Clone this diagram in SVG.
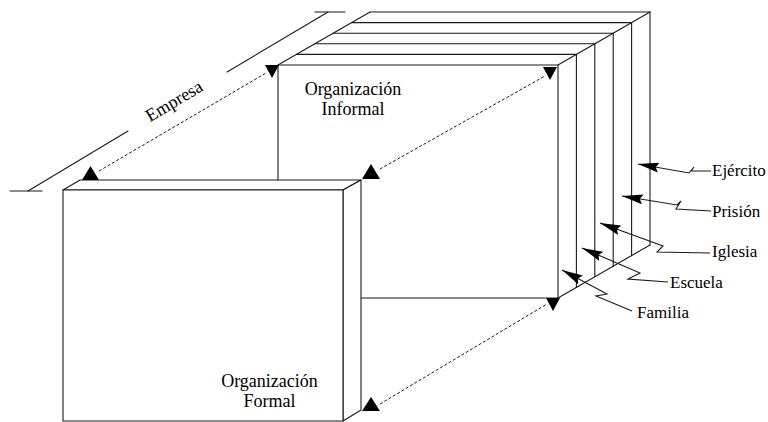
<svg xmlns="http://www.w3.org/2000/svg" width="768" height="422" viewBox="0 0 768 422">
<style>
.ln{fill:none;stroke:#1a1a1a;stroke-width:1.1;stroke-linecap:round;stroke-linejoin:round}
.face{fill:#fff;stroke:#1a1a1a;stroke-width:1.1;stroke-linejoin:round}
.dash{fill:none;stroke:#1a1a1a;stroke-width:1;stroke-dasharray:3 2}
.tri{fill:#000}
.lead{fill:none;stroke:#1a1a1a;stroke-width:1.1;stroke-linejoin:miter}
.big{font-size:18px}
.sm{font-size:17px}
</style>
<defs>
<marker id="ah" markerUnits="userSpaceOnUse" markerWidth="22" markerHeight="10" refX="21" refY="5" orient="auto-start-reverse" viewBox="0 0 22 10">
<path d="M0,0 L21,5 L0,10 L3,5 Z" fill="#000"/>
</marker>
</defs>
<rect width="768" height="422" fill="#fff"/>

<g id="empresa">
<line class="ln" x1="10" y1="191" x2="42" y2="191"/>
<line class="ln" x1="315" y1="12" x2="345" y2="12"/>
<line class="ln" x1="28" y1="191" x2="128" y2="131"/>
<line class="ln" x1="227" y1="72" x2="328" y2="12"/>
<text class="big" font-family="Liberation Serif, Times New Roman, serif" fill="#000" text-anchor="middle" transform="translate(174 101) rotate(-30.8)" y="6">Empresa</text>
</g>

<g id="layers">
<line class="ln" x1="296.4" y1="54.4" x2="576.4" y2="54.4"/>
<line class="ln" x1="314.8" y1="43.8" x2="594.8" y2="43.8"/>
<line class="ln" x1="333.2" y1="33.2" x2="613.2" y2="33.2"/>
<line class="ln" x1="351.6" y1="22.6" x2="631.6" y2="22.6"/>
<line class="ln" x1="370" y1="12" x2="650" y2="12"/>
<line class="ln" x1="278" y1="65" x2="370" y2="12"/>
<line class="ln" x1="558" y1="65" x2="650" y2="12"/>
<line class="ln" x1="558" y1="298" x2="650" y2="245"/>
<line class="ln" x1="576.4" y1="54.4" x2="576.4" y2="287.4"/>
<line class="ln" x1="594.8" y1="43.8" x2="594.8" y2="276.8"/>
<line class="ln" x1="613.2" y1="33.2" x2="613.2" y2="266.2"/>
<line class="ln" x1="631.6" y1="22.6" x2="631.6" y2="255.6"/>
<line class="ln" x1="650" y1="12" x2="650" y2="245"/>
</g>

<g id="informal">
<polyline class="ln" points="278,180 278,65 558,65 558,298 361,298"/>
<text class="big" font-family="Liberation Serif, Times New Roman, serif" fill="#000" text-anchor="middle" x="353" y="95">Organización</text>
<text class="big" font-family="Liberation Serif, Times New Roman, serif" fill="#000" text-anchor="middle" x="353" y="115">Informal</text>
</g>

<g id="formal">
<polygon class="face" points="63,190 80,180 361,180 343,190"/>
<polygon class="face" points="343,190 361,180 361,410 343,421"/>
<rect class="face" x="63" y="190" width="280" height="231"/>
<text class="big" font-family="Liberation Serif, Times New Roman, serif" fill="#000" text-anchor="middle" x="269.5" y="387">Organización</text>
<text class="big" font-family="Liberation Serif, Times New Roman, serif" fill="#000" text-anchor="middle" x="269.5" y="407">Formal</text>
</g>

<g id="connectors">
<line class="dash" x1="99" y1="171" x2="266" y2="73"/>
<line class="dash" x1="380" y1="169" x2="545" y2="76"/>
<line class="dash" x1="380" y1="404" x2="547" y2="304"/>
<polygon class="tri" points="82,180 99,180 90.5,166"/>
<polygon class="tri" points="265,65 279,65 272,78"/>
<polygon class="tri" points="362,179 380,179 371,164"/>
<polygon class="tri" points="543,67 557,67 550,80"/>
<polygon class="tri" points="546,298 560,298 553,311"/>
<polygon class="tri" points="362,411 380,411 371,397"/>
<polyline class="lead" marker-start="url(#ah)" points="638,164 689,173 694,167 691,171 711,171"/>
<polyline class="lead" marker-start="url(#ah)" points="622,196 677,205 681,201 676,209 711,211"/>
<polyline class="lead" marker-start="url(#ah)" points="600,223 663,246 657,252 710,253"/>
<polyline class="lead" marker-start="url(#ah)" points="582,248 640,273 628,279 668,282"/>
<polyline class="lead" marker-start="url(#ah)" points="562,270 607,294 596,296 632,311"/>
</g>

<g id="labels" font-family="Liberation Serif, Times New Roman, serif" fill="#000">
<text class="sm" x="712" y="176">Ejército</text>
<text class="sm" x="712" y="217">Prisión</text>
<text class="sm" x="712" y="257">Iglesia</text>
<text class="sm" x="670" y="288">Escuela</text>
<text class="sm" x="637" y="318">Familia</text>
</g>
</svg>
